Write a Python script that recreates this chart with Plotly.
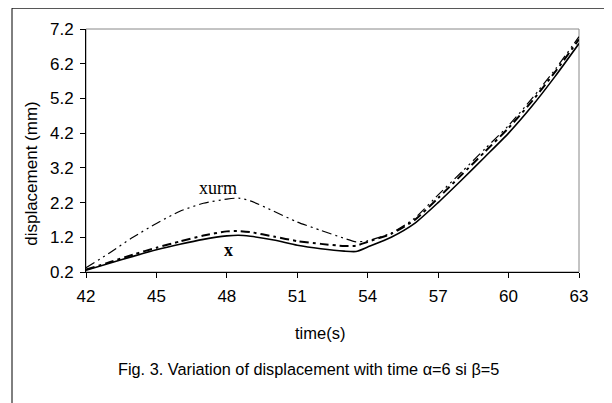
import plotly.graph_objects as go

time_s = [42, 43, 44, 45, 46, 47, 48, 48.5, 49, 50, 51, 52, 53, 53.5, 54, 55, 56, 57, 58, 59, 60, 61, 62, 63]
x_disp = [0.25, 0.45, 0.65, 0.84, 1.0, 1.14, 1.24, 1.26, 1.23, 1.12, 0.97, 0.87, 0.80, 0.79, 0.92, 1.2, 1.6, 2.2, 2.85, 3.52, 4.2, 4.98, 5.85, 6.78]
mid_disp = [0.27, 0.48, 0.7, 0.9, 1.08, 1.25, 1.37, 1.38, 1.35, 1.22, 1.09, 1.01, 0.95, 0.96, 1.07, 1.3, 1.7, 2.33, 3.0, 3.67, 4.35, 5.12, 5.98, 6.9]
xurm_disp = [0.32, 0.75, 1.2, 1.6, 1.95, 2.18, 2.3, 2.33, 2.25, 1.95, 1.64, 1.4, 1.17, 1.07, 1.1, 1.32, 1.75, 2.42, 3.08, 3.75, 4.42, 5.2, 6.05, 6.98]

x_ticks = [42, 45, 48, 51, 54, 57, 60, 63]
y_ticks = [0.2, 1.2, 2.2, 3.2, 4.2, 5.2, 6.2, 7.2]
y_tick_text = ["0.2", "1.2", "2.2", "3.2", "4.2", "5.2", "6.2", "7.2"]

fig = go.Figure()
fig.add_trace(go.Scatter(x=time_s, y=xurm_disp, mode="lines",
                         line=dict(color="black", width=1.2, shape="spline", smoothing=0.6,
                                   dash="10px,4px,2px,4px,2px,4px")))
fig.add_trace(go.Scatter(x=time_s, y=mid_disp, mode="lines",
                         line=dict(color="black", width=2, shape="spline", smoothing=0.6,
                                   dash="9px,4px,3px,4px")))
fig.add_trace(go.Scatter(x=time_s, y=x_disp, mode="lines",
                         line=dict(color="black", width=1.6, shape="spline", smoothing=0.6)))

# page body margin offset (8px) compensated
OFF = 8
W, H = 612 - OFF, 403 - OFF
L, R, T, B = 86 - OFF, 33, 27 - OFF, 131
pw, ph = W - L - R, H - T - B

def px(xs):
    return (xs - OFF - L) / pw

def py(ys):
    return (H - B - (ys - OFF)) / ph

sans = "Liberation Sans, Arial, sans-serif"
serif = "Liberation Serif, Times New Roman, serif"

fig.update_layout(
    width=W, height=H,
    margin=dict(l=L, r=R, t=T, b=B),
    paper_bgcolor="white", plot_bgcolor="white",
    showlegend=False,
    font=dict(family=sans, size=16, color="black"),
    xaxis=dict(range=[42, 63], tickvals=x_ticks, ticks="outside", ticklen=5,
               tickcolor="black", showline=True, linecolor="black", linewidth=1,
               showgrid=False, zeroline=False, tickfont=dict(size=17),
               ticklabelstandoff=4),
    yaxis=dict(range=[0.2, 7.2], tickvals=y_ticks, ticktext=y_tick_text,
               ticks="outside", ticklen=5, tickcolor="black", showline=True,
               linecolor="black", linewidth=1, showgrid=False, zeroline=False,
               tickfont=dict(size=17), ticklabelstandoff=3),
    shapes=[
        dict(type="rect", xref="paper", yref="paper", x0=0, x1=1, y0=0, y1=1,
             line=dict(color="#888888", width=1), layer="below"),
        dict(type="rect", xref="paper", yref="paper", x0=px(12), x1=px(608),
             y0=py(415), y1=py(6), line=dict(color="black", width=1)),
    ],
    annotations=[
        dict(text="xurm", x=47.62, y=2.63, xref="x", yref="y", showarrow=False,
             xanchor="center", yanchor="middle",
             font=dict(family=serif, size=18)),
        dict(text="<b>x</b>", x=48.05, y=0.83, xref="x", yref="y", showarrow=False,
             xanchor="center", yanchor="middle",
             font=dict(family=serif, size=18)),
        dict(text="time(s)", x=px(320), y=py(334), xref="paper", yref="paper",
             xanchor="center", yanchor="middle",
             showarrow=False, font=dict(size=16.5)),
        dict(text="displacement (mm)", x=px(32), y=py(173), xref="paper", yref="paper",
             xanchor="center", yanchor="middle",
             showarrow=False, textangle=-90, font=dict(size=17)),
        dict(text="Fig. 3. Variation of displacement with time \u03b1=6 si \u03b2=5",
             x=px(308), y=py(370), xref="paper", yref="paper", showarrow=False,
             xanchor="center", yanchor="middle",
             font=dict(size=16.3)),
    ],
)

fig.write_html("out.html")
